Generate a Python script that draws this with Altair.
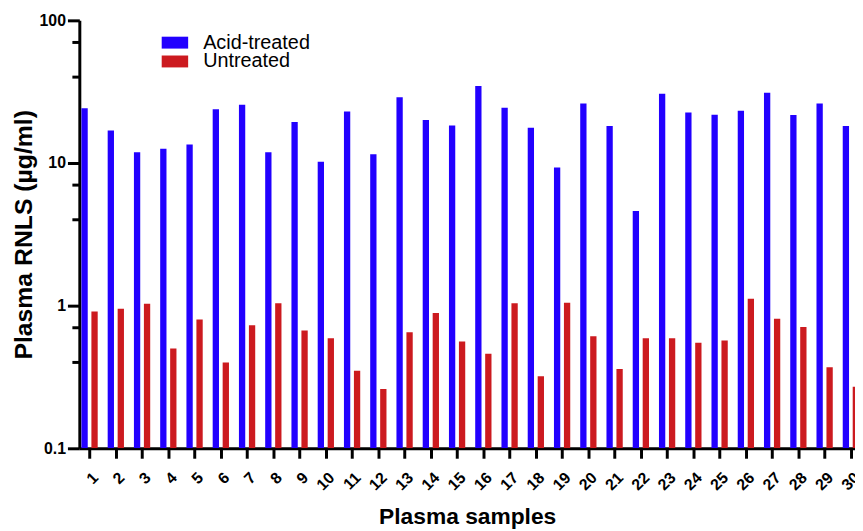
import altair as alt
import pandas as pd

# ---- data ----
samples = list(range(1, 31))
acid_treated = [24.2, 16.9, 11.9, 12.6, 13.5, 23.8, 25.6, 11.9, 19.4, 10.2,
                23.0, 11.5, 28.9, 20.0, 18.3, 34.6, 24.4, 17.7, 9.3, 26.1,
                18.2, 4.6, 30.6, 22.6, 21.8, 23.2, 31.1, 21.7, 26.1, 18.2]
untreated = [0.91, 0.95, 1.03, 0.50, 0.80, 0.40, 0.73, 1.04, 0.67, 0.59,
             0.35, 0.26, 0.65, 0.89, 0.56, 0.46, 1.04, 0.32, 1.05, 0.61,
             0.36, 0.59, 0.59, 0.55, 0.57, 1.12, 0.81, 0.71, 0.37, 0.27]
series_names = ["Acid-treated", "Untreated"]
series_colors = ["#2200FF", "#CC1A1F"]
y_major = [0.1, 1, 10, 100]
y_minor = [0.4, 0.7, 4, 7, 40, 70]

acid_df = pd.DataFrame({"sample": samples, "series": series_names[0], "value": acid_treated})
unt_df = pd.DataFrame({"sample": samples, "series": series_names[1], "value": untreated})
minor_df = pd.DataFrame({"value": y_minor})

FONT = "Liberation Sans"
W, H = 783, 432
Y_TITLE = "Plasma RNLS (µg/ml)"

xscale = alt.Scale(type="linear", domain=[0.61, 0.61 + W / 26.5], nice=False, zero=False)
yscale = alt.Scale(type="log", domain=[0.1, 100], nice=False)

xaxis = alt.Axis(
    values=samples, format="d", labelAngle=315, grid=False,
    ticks=True, tickSize=10, tickWidth=3, tickColor="#000000",
    domainWidth=3, domainColor="#000000",
    labelFont=FONT, labelFontWeight="bold", labelFontSize=16, labelColor="black",
    labelPadding=11, labelFlush=False, labelOverlap=False,
    titleFont=FONT, titleFontWeight="bold", titleFontSize=23, titleColor="black",
    titlePadding=13,
)
yaxis = alt.Axis(
    values=y_major, format="~g", grid=False,
    ticks=True, tickSize=12, tickWidth=3, tickColor="#000000",
    domainWidth=3, domainColor="#000000",
    labelFont=FONT, labelFontWeight="bold", labelFontSize=16, labelColor="black",
    labelPadding=2,
    titleFont=FONT, titleFontWeight="bold", titleFontSize=25, titleColor="black",
    titlePadding=3,
)


def legend_for(y_pos):
    return alt.Legend(
        title=None, orient="none", legendX=83, legendY=y_pos,
        symbolType="M-1,-0.45H1V0.45H-1Z", symbolSize=713,
        symbolStrokeWidth=0, symbolOpacity=1,
        labelFont=FONT, labelFontSize=20, labelColor="black",
        labelOffset=15, padding=0,
    )


def bar_layer(data, offset_lo, offset_hi):
    return alt.Chart(data).transform_calculate(
        x0=f"datum.sample + ({offset_lo})",
        x1=f"datum.sample + ({offset_hi})",
    ).mark_bar(clip=True)


acid_bars = bar_layer(acid_df, -0.31, -0.07).encode(
    x=alt.X("x0:Q", scale=xscale, axis=xaxis, title="Plasma samples"),
    x2="x1:Q",
    y=alt.Y("value:Q", scale=yscale, axis=yaxis, title=Y_TITLE),
    y2=alt.datum(0.1),
    color=alt.Color("series:N",
                    scale=alt.Scale(domain=[series_names[0]], range=[series_colors[0]]),
                    legend=legend_for(9)),
)

unt_bars = bar_layer(unt_df, 0.07, 0.31).encode(
    x=alt.X("x0:Q", scale=xscale, axis=xaxis, title="Plasma samples"),
    x2="x1:Q",
    y=alt.Y("value:Q", scale=yscale, axis=yaxis, title=Y_TITLE),
    y2=alt.datum(0.1),
    fill=alt.Fill("series:N",
                  scale=alt.Scale(domain=[series_names[1]], range=[series_colors[1]]),
                  legend=legend_for(28)),
)

minor = alt.Chart(minor_df).mark_rule(color="#000000", strokeWidth=3, clip=False).encode(
    y=alt.Y("value:Q", scale=yscale, axis=yaxis, title=Y_TITLE),
    x=alt.value(-7),
    x2=alt.value(0),
)

chart = alt.layer(acid_bars, unt_bars, minor).properties(
    width=W, height=H,
    autosize=alt.AutoSizeParams(type="none"),
    padding={"left": 72, "top": 10, "right": 0, "bottom": 81},
    background="white",
).configure_view(stroke=None)

chart.save("out.html", embed_options={"renderer": "svg", "actions": False})
